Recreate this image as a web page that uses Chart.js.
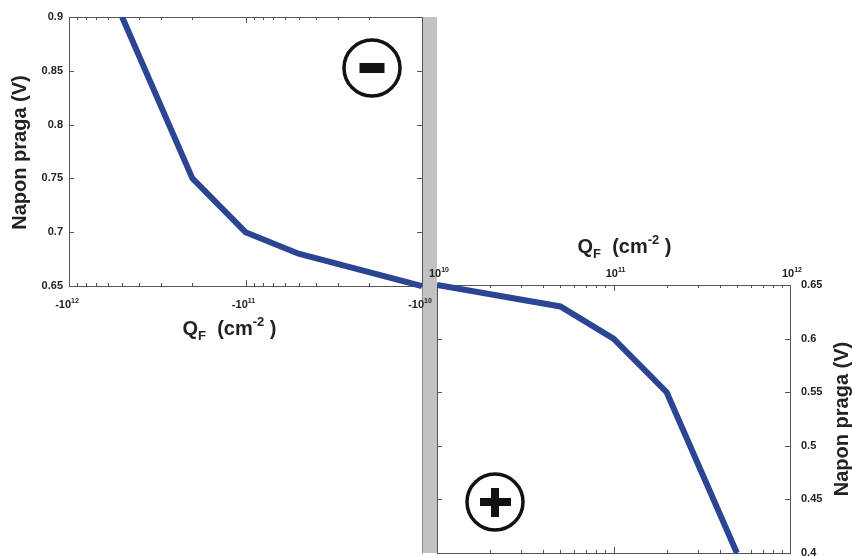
<!DOCTYPE html>
<html>
<head>
<meta charset="utf-8">
<script src="https://cdn.jsdelivr.net/npm/chart.js@4.4.1/dist/chart.umd.min.js"></script>
<style>
  html, body { margin: 0; padding: 0; background: #fff; }
  #wrap { position: relative; width: 852px; height: 556px; overflow: hidden; }
  #wrap canvas { position: absolute; left: 0; top: 0; }
</style>
</head>
<body>
<div id="wrap">
  <!-- positive panel sits underneath so the -10^10 label can overlap the grey bar -->
  <canvas id="pos" width="852" height="556"></canvas>
  <canvas id="neg" width="852" height="556"></canvas>
</div>
<script>
// ---- data ----
// negative fixed charge, upper-left panel
const qNeg = [-5e11, -2e11, -1e11, -5e10, -1e10];
const vNeg = [0.9, 0.75, 0.7, 0.68, 0.65];
// positive fixed charge, lower-right panel
const qPos = [1e10, 5e10, 1e11, 2e11, 5e11];
const vPos = [0.65, 0.63, 0.6, 0.55, 0.4];

// ---- axes ----
const xExponents = ["10", "11", "12"];            // decade labels 10^10 .. 10^12
const yTicksNeg = [0.65, 0.7, 0.75, 0.8, 0.85, 0.9];
const yLabelsNeg = ["0.65", "0.7", "0.75", "0.8", "0.85", "0.9"];
const yTicksPos = [0.4, 0.45, 0.5, 0.55, 0.6, 0.65];
const yLabelsPos = ["0.4", "0.45", "0.5", "0.55", "0.6", "0.65"];
const yTitle = "Napon praga (V)";

const FONT = '"Liberation Sans", Arial, sans-serif';
const LINE = "#2b4593";
const INK = "#222";
Chart.defaults.font.family = FONT;

// 1,2,..9 x 10^n for the log tick marks
const logTicks = [];
xExponents.forEach((e, i) => {
  const d = Math.pow(10, +e);
  if (i === xExponents.length - 1) { logTicks.push({ value: d, major: true }); return; }
  for (let k = 1; k <= 9; k++) logTicks.push({ value: k * d, major: k === 1 });
});

// ---- helpers ----
function drawPow(ctx, cx, base, prefix, exp) {
  ctx.font = `bold 11px ${FONT}`;
  const w1 = ctx.measureText(prefix + "10").width;
  ctx.font = `bold 7px ${FONT}`;
  const w2 = ctx.measureText(exp).width;
  let x = cx - (w1 + w2) / 2;
  ctx.textAlign = "left";
  ctx.textBaseline = "alphabetic";
  ctx.font = `bold 11px ${FONT}`;
  ctx.fillText(prefix + "10", x, base);
  ctx.font = `bold 7px ${FONT}`;
  ctx.fillText(exp, x + w1, base - 5);
}

function drawQTitle(ctx, cx, base) {
  const parts = [
    { t: "Q", f: 20, dy: 0 },
    { t: "F", f: 13, dy: 5 },
    { t: "  (cm", f: 20, dy: 0 },
    { t: "-2", f: 13, dy: -9 },
    { t: " )", f: 20, dy: 0 },
  ];
  let total = 0;
  parts.forEach((p) => { ctx.font = `bold ${p.f}px ${FONT}`; p.w = ctx.measureText(p.t).width; total += p.w; });
  let x = cx - total / 2;
  ctx.textAlign = "left";
  ctx.textBaseline = "alphabetic";
  parts.forEach((p) => { ctx.font = `bold ${p.f}px ${FONT}`; ctx.fillText(p.t, x, base + p.dy); x += p.w; });
}

function drawYTitle(ctx, x, y) {
  ctx.save();
  ctx.translate(x, y);
  ctx.rotate(-Math.PI / 2);
  ctx.font = `bold 20px ${FONT}`;
  ctx.textAlign = "center";
  ctx.textBaseline = "middle";
  ctx.fillText(yTitle, 0, 0);
  ctx.restore();
}

function drawFrame(chart) {
  const { ctx, chartArea: a, scales } = chart;
  ctx.save();
  ctx.strokeStyle = "#555";
  ctx.lineWidth = 1;
  ctx.strokeRect(a.left + 0.5, a.top + 0.5, a.width, a.height);
  ctx.beginPath();
  scales.x.ticks.forEach((t) => {
    const px = Math.round(scales.x.getPixelForValue(t.value)) + 0.5;
    const len = t.major ? 6 : 3;
    ctx.moveTo(px, a.top); ctx.lineTo(px, a.top + len);
    ctx.moveTo(px, a.bottom); ctx.lineTo(px, a.bottom - len);
  });
  scales.y.ticks.forEach((t) => {
    const py = Math.round(scales.y.getPixelForValue(t.value)) + 0.5;
    ctx.moveTo(a.left, py); ctx.lineTo(a.left + 5, py);
    ctx.moveTo(a.right, py); ctx.lineTo(a.right - 5, py);
  });
  ctx.stroke();
  ctx.restore();
}

function drawSymbol(ctx, cx, cy, plus) {
  ctx.save();
  ctx.strokeStyle = "#111";
  ctx.fillStyle = "#111";
  ctx.lineWidth = 3.5;
  ctx.beginPath();
  ctx.arc(cx, cy, 28, 0, Math.PI * 2);
  ctx.stroke();
  if (plus) {
    ctx.fillRect(cx - 15, cy - 4, 31, 8);
    ctx.fillRect(cx - 4, cy - 14, 8, 29);
  } else {
    ctx.fillRect(cx - 12.5, cy - 5, 25, 10);
  }
  ctx.restore();
}

// ---- charts ----
function yScale(min, max, ticks, labels, side, width, pad) {
  return {
    position: side, min, max,
    afterBuildTicks: (s) => { s.ticks = ticks.map((v) => ({ value: v })); },
    afterFit: (s) => { s.width = width; s.paddingTop = 0; s.paddingBottom = 0; },
    grid: { display: false, drawTicks: false },
    border: { display: false },
    ticks: { padding: pad, color: INK, font: { size: 11, weight: "bold" }, callback: (v, i) => labels[i] },
  };
}

function xScale(side, height, reverse) {
  return {
    type: "logarithmic", position: side, reverse,
    min: Math.pow(10, +xExponents[0]), max: Math.pow(10, +xExponents[xExponents.length - 1]),
    afterBuildTicks: (s) => { s.ticks = logTicks.map((t) => ({ ...t })); },
    afterFit: (s) => { s.height = height; s.paddingLeft = 0; s.paddingRight = 0; },
    grid: { display: false, drawTicks: false },
    border: { display: false },
    ticks: { display: false },
  };
}

const negChart = new Chart(document.getElementById("neg"), {
  type: "line",
  data: {
    datasets: [{
      data: qNeg.map((q, i) => ({ x: Math.abs(q), y: vNeg[i] })),
      borderColor: LINE, borderWidth: 6, pointRadius: 0, tension: 0,
      clip: { left: 0, top: 0, right: 0, bottom: 4 },
    }],
  },
  options: {
    responsive: false, animation: false, events: [],
    layout: { padding: { top: 17, right: 430, left: 0, bottom: 0 } },
    plugins: { legend: { display: false }, tooltip: { enabled: false } },
    scales: { x: xScale("bottom", 270, true), y: yScale(0.65, 0.9, yTicksNeg, yLabelsNeg, "left", 69, 6) },
  },
  plugins: [{
    id: "negDecor",
    beforeDatasetsDraw: (chart) => drawFrame(chart),
    afterDraw: (chart) => {
      const { ctx, chartArea: a, scales } = chart;
      ctx.save();
      ctx.fillStyle = INK;
      logTicks.filter((t) => t.major).forEach((t, i) => {
        drawPow(ctx, scales.x.getPixelForValue(t.value) - 2, a.bottom + 22, "-", xExponents[i]);
      });
      drawQTitle(ctx, (a.left + a.right) / 2 - 16, a.bottom + 49);
      drawYTitle(ctx, 20, (a.top + a.bottom) / 2 + 1);
      drawSymbol(ctx, a.right - 50, a.top + 51, false);
      ctx.restore();
    },
  }],
});

new Chart(document.getElementById("pos"), {
  type: "line",
  data: {
    datasets: [{
      data: qPos.map((q, i) => ({ x: q, y: vPos[i] })),
      borderColor: LINE, borderWidth: 6, pointRadius: 0, tension: 0,
      clip: { left: 0, top: 4, right: 0, bottom: 0 },
    }],
  },
  options: {
    responsive: false, animation: false, events: [],
    layout: { padding: { top: 0, right: 0, left: 437, bottom: 3 } },
    plugins: { legend: { display: false }, tooltip: { enabled: false } },
    scales: { x: xScale("top", 285, false), y: yScale(0.4, 0.65, yTicksPos, yLabelsPos, "right", 62, 11) },
  },
  plugins: [{
    id: "posDecor",
    beforeDatasetsDraw: (chart) => {
      const { ctx, chartArea: a } = chart;
      // grey separator between the two panels
      const top = negChart.chartArea.top;
      ctx.save();
      ctx.fillStyle = "#c2c2c2";
      ctx.fillRect(a.left - 14, top, 14, a.bottom - top);
      ctx.strokeStyle = "#8c8c8c";
      ctx.lineWidth = 1;
      ctx.beginPath();
      ctx.moveTo(a.left - 14.5, top); ctx.lineTo(a.left - 14.5, a.bottom + 0.5);
      ctx.stroke();
      ctx.restore();
      drawFrame(chart);
    },
    afterDraw: (chart) => {
      const { ctx, chartArea: a, scales } = chart;
      ctx.save();
      ctx.fillStyle = INK;
      logTicks.filter((t) => t.major).forEach((t, i) => {
        drawPow(ctx, scales.x.getPixelForValue(t.value) + 2, a.top - 8, "", xExponents[i]);
      });
      drawQTitle(ctx, (a.left + a.right) / 2 + 11, a.top - 32);
      drawYTitle(ctx, 842, (a.top + a.bottom) / 2);
      drawSymbol(ctx, a.left + 58, a.bottom - 51, true);
      ctx.restore();
    },
  }],
});
</script>
</body>
</html>
